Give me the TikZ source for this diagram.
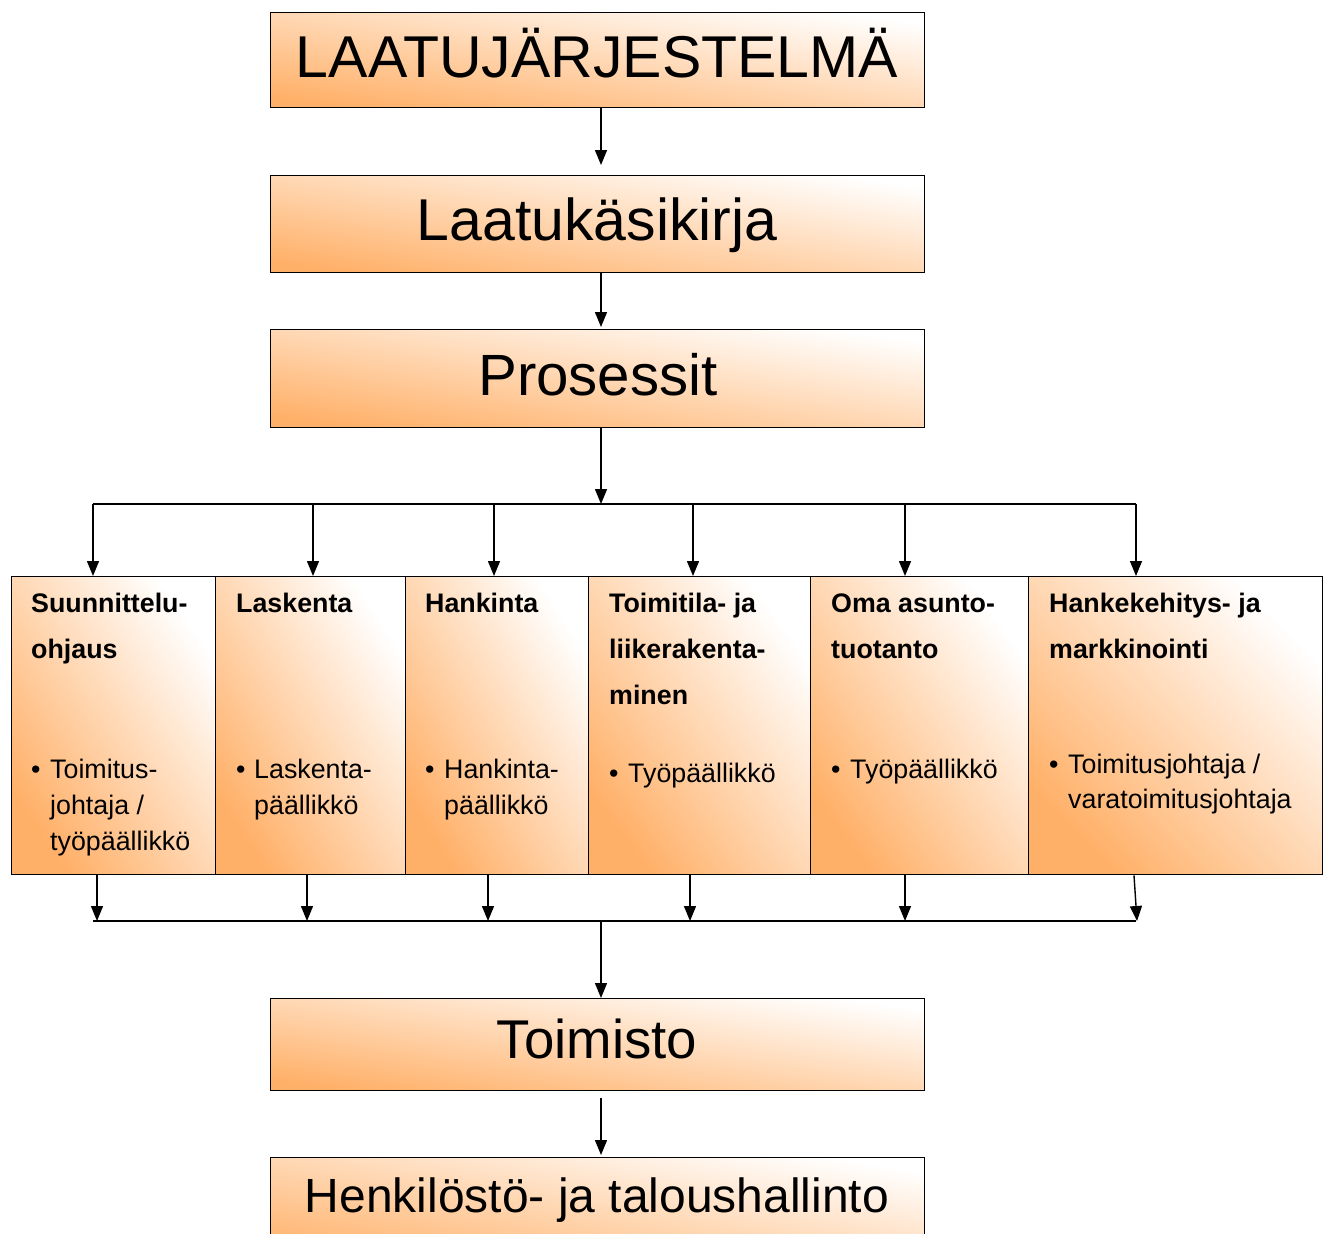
\documentclass[tikz,border=0pt]{standalone}
\usepackage{fontspec}
\setmainfont{Liberation Sans}
\usetikzlibrary{arrows.meta}
\definecolor{boxorange}{RGB}{255,176,104}
\begin{document}
\begin{tikzpicture}[x=1pt,y=-1pt,
  shadebox/.style={draw=black, line width=1.4pt, top color=white, bottom color=boxorange, shading angle=#1, inner sep=0pt, anchor=north west},
  bigbox/.style={shadebox=#1, minimum width=654pt},
  colbox/.style={shadebox=#1, minimum height=298pt},
  bigtext/.style={inner sep=0pt, anchor=base, font=\fontsize{59}{60}\selectfont},
  ttl/.style={inner sep=0pt, anchor=base west, font=\fontsize{26.8}{28}\selectfont\bfseries},
  itm/.style={inner sep=0pt, anchor=base west, font=\fontsize{26.8}{28}\selectfont},
  arr/.style={line width=1.4pt, -{Triangle[length=15pt,width=12pt]}},
  ln/.style={line width=1.4pt}]
\clip (0,0) rectangle (1328,1234);
\fill[white] (0,0) rectangle (1328,1234);

% main boxes
\node[bigbox=-8.27, minimum height=95pt] (b1) at (270,12) {};
\node[bigtext] (b1t) at (597,77) {LAATUJÄRJESTELMÄ};
\node[bigbox=-8.44, minimum height=97pt] (b2) at (270,175) {};
\node[bigtext] (b2t) at (597,240) {Laatukäsikirja};
\node[bigbox=-8.52, minimum height=98pt] (b3) at (270,329) {};
\node[bigtext, font=\fontsize{58.2}{60}\selectfont] (b3t) at (598,395) {Prosessit};
\node[bigbox=-8.0, minimum height=92pt] (b4) at (270,998) {};
\node[bigtext, font=\fontsize{54.6}{56}\selectfont] (b4t) at (597,1058) {Toimisto};
\node[bigbox=-9.5, minimum height=110pt] (b5) at (270,1157) {};
\node[bigtext, font=\fontsize{48}{50}\selectfont] (b5t) at (597,1212) {Henkilöstö- ja taloushallinto};

% column boxes
\node[colbox=-55.6, minimum width=204pt] (c1) at (11,576) {};
\node[colbox=-57.5, minimum width=190pt] (c2) at (215,576) {};
\node[colbox=-58.4, minimum width=183pt] (c3) at (405,576) {};
\node[colbox=-53.3, minimum width=222pt] (c4) at (588,576) {};
\node[colbox=-53.8, minimum width=218pt] (c5) at (810,576) {};
\node[colbox=-45.4, minimum width=294pt] (c6) at (1028,576) {};

% column texts
\node[ttl] (c1a) at (31,612) {Suunnittelu-};
\node[ttl] (c1b) at (31,658) {ohjaus};
\node[itm] (c1d) at (31,778) {•};
\node[itm] (c1e) at (50,778) {Toimitus-};
\node[itm] (c1f) at (50,814) {johtaja /};
\node[itm] (c1g) at (50,850) {työpäällikkö};

\node[ttl] (c2a) at (236,612) {Laskenta};
\node[itm] (c2d) at (236,778) {•};
\node[itm] (c2e) at (254,778) {Laskenta-};
\node[itm] (c2f) at (254,814) {päällikkö};

\node[ttl] (c3a) at (425,612) {Hankinta};
\node[itm] (c3d) at (425,778) {•};
\node[itm] (c3e) at (444,778) {Hankinta-};
\node[itm] (c3f) at (444,814) {päällikkö};

\node[ttl] (c4a) at (609,612) {Toimitila- ja};
\node[ttl] (c4b) at (609,658) {liikerakenta-};
\node[ttl] (c4c) at (609,704) {minen};
\node[itm] (c4d) at (609,782) {•};
\node[itm] (c4e) at (628,782) {Työpäällikkö};

\node[ttl] (c5a) at (831,612) {Oma asunto-};
\node[ttl] (c5b) at (831,658) {tuotanto};
\node[itm] (c5d) at (831,778) {•};
\node[itm] (c5e) at (850,778) {Työpäällikkö};

\node[ttl] (c6a) at (1049,612) {Hankekehitys- ja};
\node[ttl] (c6b) at (1049,658) {markkinointi};
\node[itm] (c6d) at (1049,773) {•};
\node[itm] (c6e) at (1068,773) {Toimitusjohtaja /};
\node[itm] (c6f) at (1068,808) {varatoimitusjohtaja};

% top connectors
\draw[arr, shorten >=10pt] (b1.south -| 601,0) -- (b2.north -| 601,0);
\draw[arr, shorten >=2pt] (b2.south -| 601,0) -- (b3.north -| 601,0);
\coordinate (h1) at (601,504);
\coordinate (hl) at (93,504);
\coordinate (hr) at (1136,504);
\draw[arr] (b3.south -| h1) -- (h1);
\draw[ln] (hl) -- (hr);
\foreach \x/\c in {93/c1, 313/c2, 494/c3, 693/c4, 905/c5, 1136/c6}
  \draw[arr] (\x,504) -- (\c.north -| \x,0);

% bottom connectors
\coordinate (g1) at (601,921);
\coordinate (gl) at (93,921);
\coordinate (gr) at (1136,921);
\foreach \x/\c in {97/c1, 307/c2, 488/c3, 690/c4, 905/c5}
  \draw[arr] (\c.south -| \x,0) -- (\x,921);
\draw[arr] (c6.south -| 1134,0) -- (1137,921);
\draw[ln] (gl) -- (gr);
\draw[arr] (g1) -- (b4.north -| g1);
\draw[arr, shorten <=7pt, shorten >=2pt] (b4.south -| g1) -- (b5.north -| g1);
\end{tikzpicture}
\end{document}
